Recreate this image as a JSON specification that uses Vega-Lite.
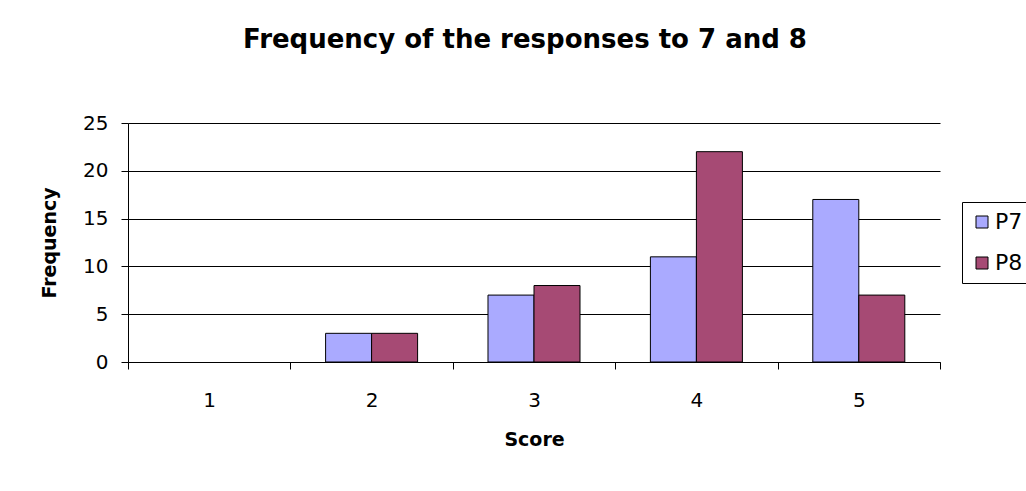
{
  "$schema": "https://vega.github.io/schema/vega-lite/v6.json",
  "autosize": "none",
  "width": 812,
  "height": 239,
  "padding": {"left": 128, "top": 123, "right": 86, "bottom": 129},
  "background": "white",
  "title": {
    "text": "Frequency of the responses to 7 and 8",
    "font": "DejaVu Sans",
    "fontSize": 26,
    "fontWeight": "bold",
    "color": "black",
    "anchor": "middle",
    "frame": "group",
    "baseline": "alphabetic",
    "offset": 39,
    "dx": -9
  },
  "data": {
    "values": [
      {"Score": "1", "Series": "P7", "Frequency": 0},
      {"Score": "1", "Series": "P8", "Frequency": 0},
      {"Score": "2", "Series": "P7", "Frequency": 3},
      {"Score": "2", "Series": "P8", "Frequency": 3},
      {"Score": "3", "Series": "P7", "Frequency": 7},
      {"Score": "3", "Series": "P8", "Frequency": 8},
      {"Score": "4", "Series": "P7", "Frequency": 11},
      {"Score": "4", "Series": "P8", "Frequency": 22},
      {"Score": "5", "Series": "P7", "Frequency": 17},
      {"Score": "5", "Series": "P8", "Frequency": 7}
    ]
  },
  "transform": [{"filter": "datum.Frequency > 0"}],
  "mark": {"type": "bar", "stroke": "black", "strokeWidth": 1},
  "encoding": {
    "x": {
      "field": "Score",
      "type": "nominal",
      "scale": {"domain": ["1", "2", "3", "4", "5"], "paddingInner": 0, "paddingOuter": 0},
      "axis": {
        "title": "Score",
        "labelAngle": 0,
        "tickBand": "extent",
        "grid": false
      }
    },
    "xOffset": {
      "field": "Series",
      "type": "nominal",
      "scale": {"domain": ["P7", "P8"], "paddingInner": 0, "paddingOuter": 0.765}
    },
    "y": {
      "field": "Frequency",
      "type": "quantitative",
      "scale": {"domain": [0, 25]},
      "axis": {
        "title": "Frequency",
        "values": [0, 5, 10, 15, 20, 25],
        "grid": true
      }
    },
    "color": {
      "field": "Series",
      "type": "nominal",
      "scale": {"domain": ["P7", "P8"], "range": ["#AAAAFF", "#A64A74"]},
      "legend": {
        "title": null,
        "orient": "none",
        "legendX": 834,
        "legendY": 79,
        "strokeColor": "black",
        "padding": 9,
        "symbolType": "square",
        "symbolSize": 144,
        "symbolStrokeColor": "black",
        "symbolStrokeWidth": 1,
        "labelFont": "DejaVu Sans",
        "labelFontSize": 22,
        "labelColor": "black",
        "labelOffset": 2,
        "rowPadding": 19
      }
    }
  },
  "config": {
    "view": {"stroke": null},
    "axis": {
      "domainColor": "black",
      "tickColor": "black",
      "gridColor": "black",
      "gridOpacity": 1,
      "tickSize": 7,
      "labelFont": "DejaVu Sans",
      "labelFontSize": 20,
      "labelColor": "black",
      "titleFont": "DejaVu Sans",
      "titleFontSize": 19,
      "titleFontWeight": "bold",
      "titleColor": "black"
    },
    "axisX": {"labelPadding": 21, "titlePadding": 20},
    "axisY": {"labelPadding": 13, "titlePadding": 23}
  }
}
